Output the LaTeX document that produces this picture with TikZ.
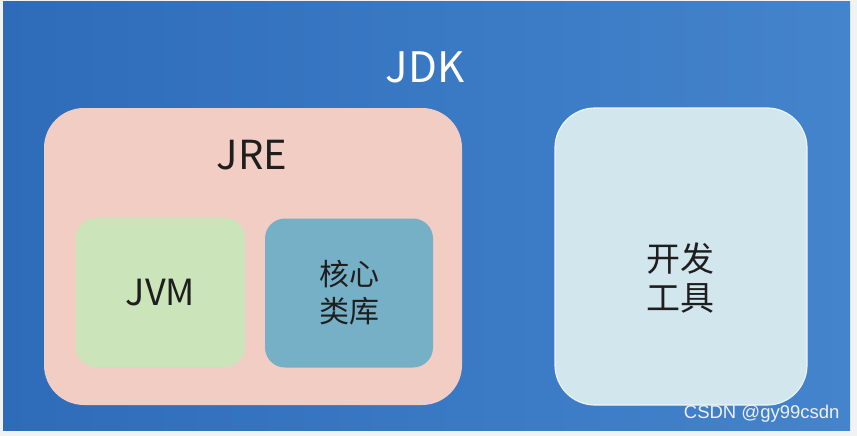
\documentclass[tikz,border=0pt]{standalone}
\usepackage{fontspec}
\setmainfont{Noto Sans CJK SC}
\newfontfamily\markfont{Liberation Sans}
\usetikzlibrary{positioning}
\definecolor{jdkdark}{RGB}{46,108,186}
\definecolor{jdklight}{RGB}{68,132,204}
\definecolor{jrefill}{RGB}{242,205,196}
\definecolor{jvmfill}{RGB}{204,228,186}
\definecolor{libfill}{RGB}{118,176,198}
\definecolor{toolfill}{RGB}{210,230,238}
\definecolor{textdark}{RGB}{30,30,30}

\begin{document}
\begin{tikzpicture}[x=1pt,y=-1pt,
  box/.style={rectangle, inner sep=0pt, align=center, text=textdark}]
  \useasboundingbox (0,0) rectangle (857,436);
  \fill[white!90!gray] (0,0) rectangle (857,436);
  \node[box, minimum width=847, minimum height=428, left color=jdkdark, right color=jdklight] (jdk) at (426.5,216) {};
  \node[text=white, font=\fontsize{42}{46}\selectfont] (jdklabel) at (425,67) {JDK};

  \node[box, fill=jrefill, minimum width=418, minimum height=297, rounded corners=40] (jre) at (253,256.5) {};
  \node[box, font=\fontsize{40}{44}\selectfont] (jrelabel) at (252,155) {JRE};

  \node[box, fill=jvmfill, minimum width=169, minimum height=149, rounded corners=20, font=\fontsize{36}{40}\selectfont] (jvm) at (160.5,292.5) {JVM};
  \node[box, fill=libfill, minimum width=168, minimum height=149, rounded corners=20, font=\fontsize{30}{37}\selectfont] (lib) at (349,293) {核心\\类库};

  \node[box, fill=toolfill, draw=white!55!toolfill, line width=1.2, minimum width=252, minimum height=297, rounded corners=40] (tools) at (681,256.5) {};
  \node[box, font=\fontsize{34}{39}\selectfont] (toollabel) at (680,278) {开发\\工具};

  \node[anchor=east, text=white!88!gray, font=\markfont\fontsize{18.5}{20}\selectfont] (mark) at (843,414) {CSDN @gy99csdn};
\end{tikzpicture}
\end{document}
